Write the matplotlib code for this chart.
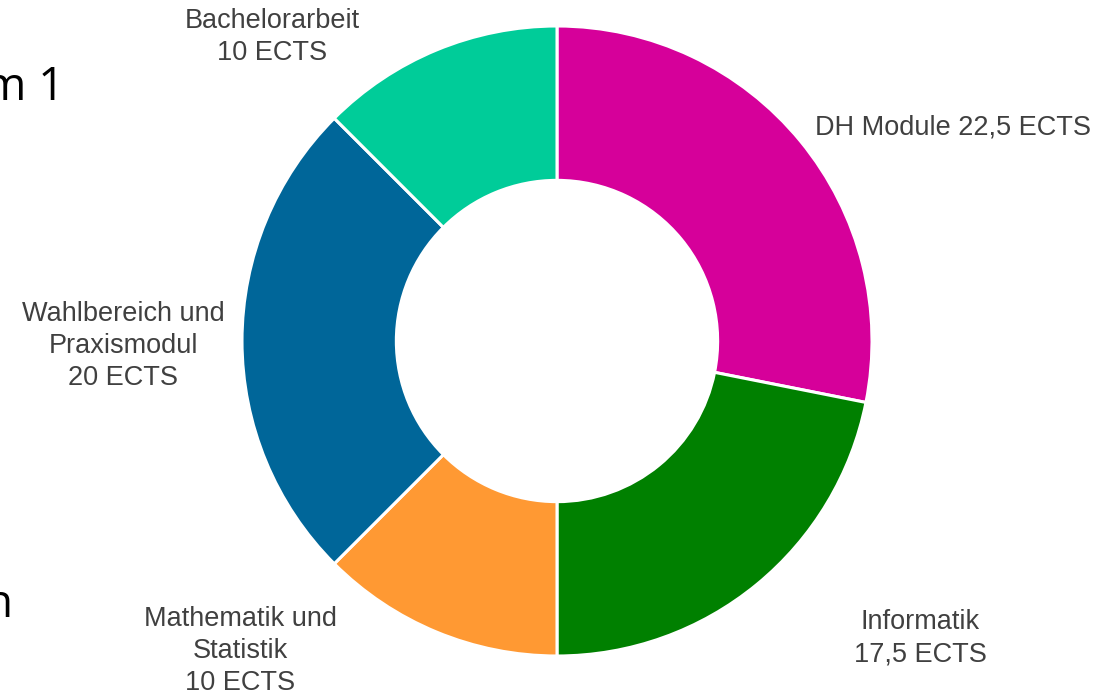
import matplotlib.pyplot as plt

# module shares of the study programme (ECTS)
modules = ["DH Module", "Informatik", "Mathematik und Statistik",
           "Wahlbereich und Praxismodul", "Bachelorarbeit"]
ects = [22.5, 17.5, 10, 20, 10]
colors = ["#D6009A", "#008000", "#FF9933", "#006699", "#00CC99"]
labels = ["DH Module 22,5 ECTS", "Informatik\n17,5 ECTS",
          "Mathematik und\nStatistik\n10 ECTS",
          "Wahlbereich und\nPraxismodul\n20 ECTS",
          "Bachelorarbeit\n10 ECTS"]

W, H = 1112, 696
cx, cy, R = 557, 341, 315

fig = plt.figure(figsize=(W / 100, H / 100), dpi=100)
ax = fig.add_axes([0, 0, 1, 1])

ax.pie(ects, colors=colors, startangle=90, counterclock=False, radius=1,
       wedgeprops=dict(width=0.49, edgecolor="white", linewidth=2.2))

# pie() resets the limits, so fix the pixel mapping afterwards
ax.set_xlim(-cx / R, (W - cx) / R)
ax.set_ylim(-(H - cy) / R, cy / R)
ax.set_aspect("equal")
ax.axis("off")


def px(x, y):
    return (x - cx) / R, (cy - y) / R


font = dict(fontsize=19.5, color="#404040", family=["Liberation Sans", "DejaVu Sans"],
            linespacing=1.32)
ax.text(*px(815, 128), labels[0], ha="left", va="center", **font)
ax.text(*px(920, 638), labels[1], ha="center", va="center", **font)
ax.text(*px(240, 651), labels[2], ha="center", va="center", **font)
ax.text(*px(123, 346), labels[3], ha="center", va="center", **font)
ax.text(*px(272, 37), labels[4], ha="center", va="center", **font)

# cut-off slide text on the left edge (cut in the reference too)
slide = dict(fontsize=33, color="black", family=["Open Sans", "DejaVu Sans"])
ax.text(*px(64, 88), "m 1", ha="right", va="center", **slide)
ax.text(*px(12, 605), "n", ha="right", va="center", **slide)

fig.savefig("out.png", dpi=100)
